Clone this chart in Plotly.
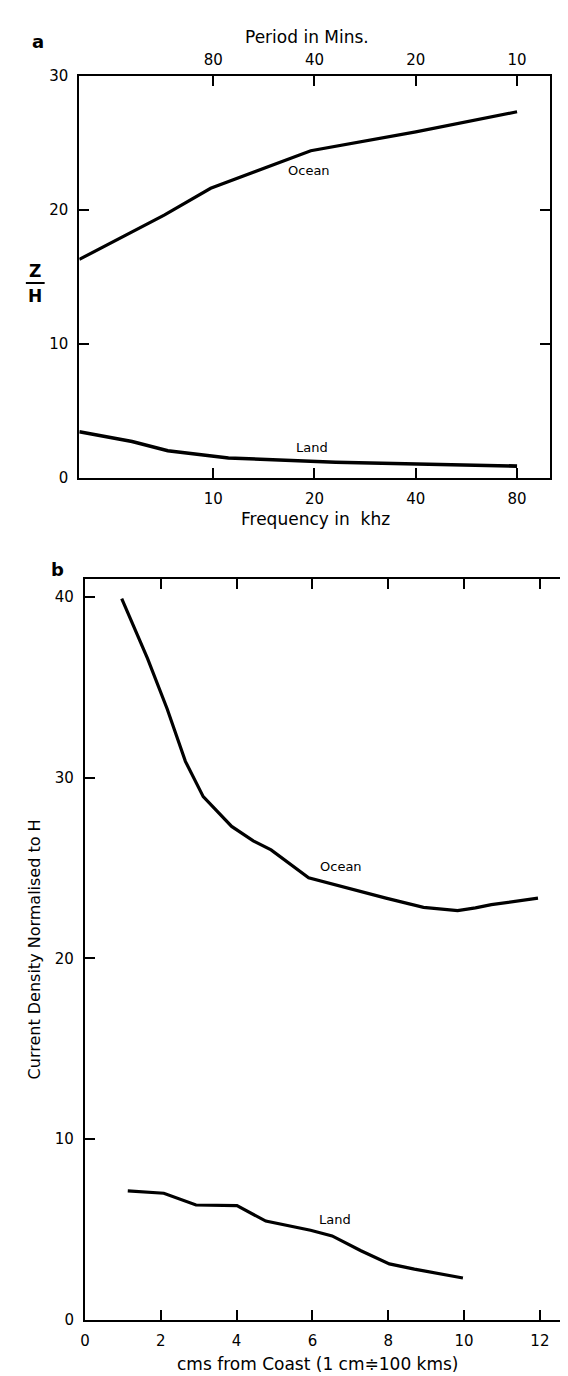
import math
import plotly.graph_objects as go

W, H = 568, 1376

# ---------------- data ----------------
# Panel a: |Z/H| versus frequency
freq_ocean = [4.0, 7.15, 9.83, 14.9, 19.5, 40, 80]
zh_ocean = [16.3, 19.6, 21.6, 23.3, 24.4, 25.8, 27.3]
freq_land = [4.0, 5.74, 7.33, 11.1, 23.1, 48.2, 80]
zh_land = [3.46, 2.73, 2.05, 1.51, 1.19, 1.02, 0.9]
freq_ticks = [10, 20, 40, 80]
freq_ticklabels = ["10", "20", "40", "80"]
period_ticklabels = ["80", "40", "20", "10"]
zh_ticks = [0, 10, 20, 30]

# Panel b: current density versus distance from coast
dist_ocean = [0.97, 1.65, 2.17, 2.65, 3.12, 3.87, 4.44, 4.91, 5.90, 6.9, 7.94, 8.93, 9.83, 10.3, 10.72, 11.95]
cd_ocean = [39.9, 36.6, 33.8, 30.9, 28.95, 27.3, 26.5, 26.0, 24.46, 23.9, 23.33, 22.82, 22.64, 22.79, 22.97, 23.33]
dist_land = [1.13, 2.08, 2.93, 4.01, 4.77, 5.1, 5.95, 6.52, 7.28, 8.03, 8.69, 9.97]
cd_land = [7.13, 7.0, 6.35, 6.31, 5.46, 5.31, 4.95, 4.64, 3.82, 3.09, 2.8, 2.31]
dist_ticks = [0, 2, 4, 6, 8, 10, 12]
cd_ticks = [0, 10, 20, 30, 40]

FONT = "DejaVu Sans, Liberation Sans, sans-serif"


def px(x):
    return x / W


def py(y):
    return 1 - y / H


fig = go.Figure()

line_style = dict(color="black", width=3.2)
fig.add_trace(go.Scatter(x=freq_ocean, y=zh_ocean, mode="lines", line=line_style,
                         xaxis="x", yaxis="y", hoverinfo="skip", showlegend=False))
fig.add_trace(go.Scatter(x=freq_land, y=zh_land, mode="lines", line=dict(color="black", width=3.6),
                         xaxis="x", yaxis="y", hoverinfo="skip", showlegend=False))
# invisible trace to activate the top (period) axis
fig.add_trace(go.Scatter(x=freq_ocean, y=zh_ocean, mode="lines", line=dict(color="rgba(0,0,0,0)", width=0),
                         xaxis="x3", yaxis="y", hoverinfo="skip", showlegend=False))

fig.add_trace(go.Scatter(x=dist_ocean, y=cd_ocean, mode="lines", line=line_style,
                         xaxis="x2", yaxis="y2", hoverinfo="skip", showlegend=False))
fig.add_trace(go.Scatter(x=dist_land, y=cd_land, mode="lines", line=line_style,
                         xaxis="x2", yaxis="y2", hoverinfo="skip", showlegend=False))

tickfont = dict(family=FONT, size=15, color="black")
common = dict(showline=True, linecolor="black", linewidth=2, ticks="inside", ticklen=10,
              tickwidth=2, tickcolor="black", showgrid=False, zeroline=False, tickfont=tickfont,
              ticklabelstandoff=6)

fig.update_layout(
    width=W, height=H,
    margin=dict(l=0, r=0, t=0, b=0),
    paper_bgcolor="white", plot_bgcolor="white",
    xaxis=dict(domain=[px(67), px(542.4)], anchor="y", type="log",
               range=[math.log10(4), math.log10(100)],
               tickvals=freq_ticks, ticktext=freq_ticklabels, mirror="ticks", **common),
    xaxis3=dict(overlaying="x", anchor="y", side="top", type="log",
                range=[math.log10(4), math.log10(100)],
                tickvals=freq_ticks, ticktext=period_ticklabels,
                showline=False, ticks="", showgrid=False, zeroline=False,
                tickfont=tickfont, ticklabelstandoff=7),
    yaxis=dict(domain=[py(467.3), py(59.3)], anchor="x", range=[0, 30],
               tickvals=zh_ticks, mirror="ticks", **common),
    xaxis2=dict(domain=[px(72.7), px(567)], anchor="y2", range=[0, 12.9],
                tickvals=dist_ticks, mirror="ticks", **common),
    yaxis2=dict(domain=[py(1320), py(569.3)], anchor="x2", range=[0, 41],
                tickvals=cd_ticks, mirror="ticks", **common),
)

ann_font = dict(family=FONT, size=17, color="black")
lab_font = dict(family=FONT, size=13, color="black")
annotations = [
    dict(text="<b>a</b>", x=px(25), y=py(25), font=dict(family=FONT, size=18, color="black")),
    dict(text="<b>b</b>", x=px(45), y=py(560), font=dict(family=FONT, size=18, color="black")),
    dict(text="Period in Mins.", x=px(297), y=py(20), font=ann_font),
    dict(text="Frequency in  khz", x=px(306), y=py(509), font=ann_font),
    dict(text="<b>Z</b>", x=px(22), y=py(257), font=dict(family=FONT, size=17, color="black")),
    dict(text="<b>H</b>", x=px(22), y=py(283), font=dict(family=FONT, size=17, color="black")),
    dict(text="Current Density Normalised to H", x=px(22), y=py(945), textangle=-90,
         font=dict(family=FONT, size=16, color="black")),
    dict(text="cms from Coast (1 cm\u2251100 kms)", x=px(308), y=py(1365), font=ann_font),
]
for a in annotations:
    a.update(xref="paper", yref="paper", showarrow=False, xanchor="center", yanchor="middle")

annotations += [
    dict(text="Ocean", x=math.log10(19.3), y=22.9, xref="x", yref="y", showarrow=False, font=lab_font),
    dict(text="Land", x=math.log10(19.7), y=2.25, xref="x", yref="y", showarrow=False, font=lab_font),
    dict(text="Ocean", x=6.76, y=25.1, xref="x2", yref="y2", showarrow=False, font=lab_font),
    dict(text="Land", x=6.6, y=5.55, xref="x2", yref="y2", showarrow=False, font=lab_font),
]
fig.update_layout(annotations=annotations)

# fraction bar of Z/H
fig.add_shape(type="line", xref="paper", yref="paper", x0=px(13), x1=px(32), y0=py(269.5), y1=py(269.5),
              line=dict(color="black", width=2))

fig.write_html("out.html")
